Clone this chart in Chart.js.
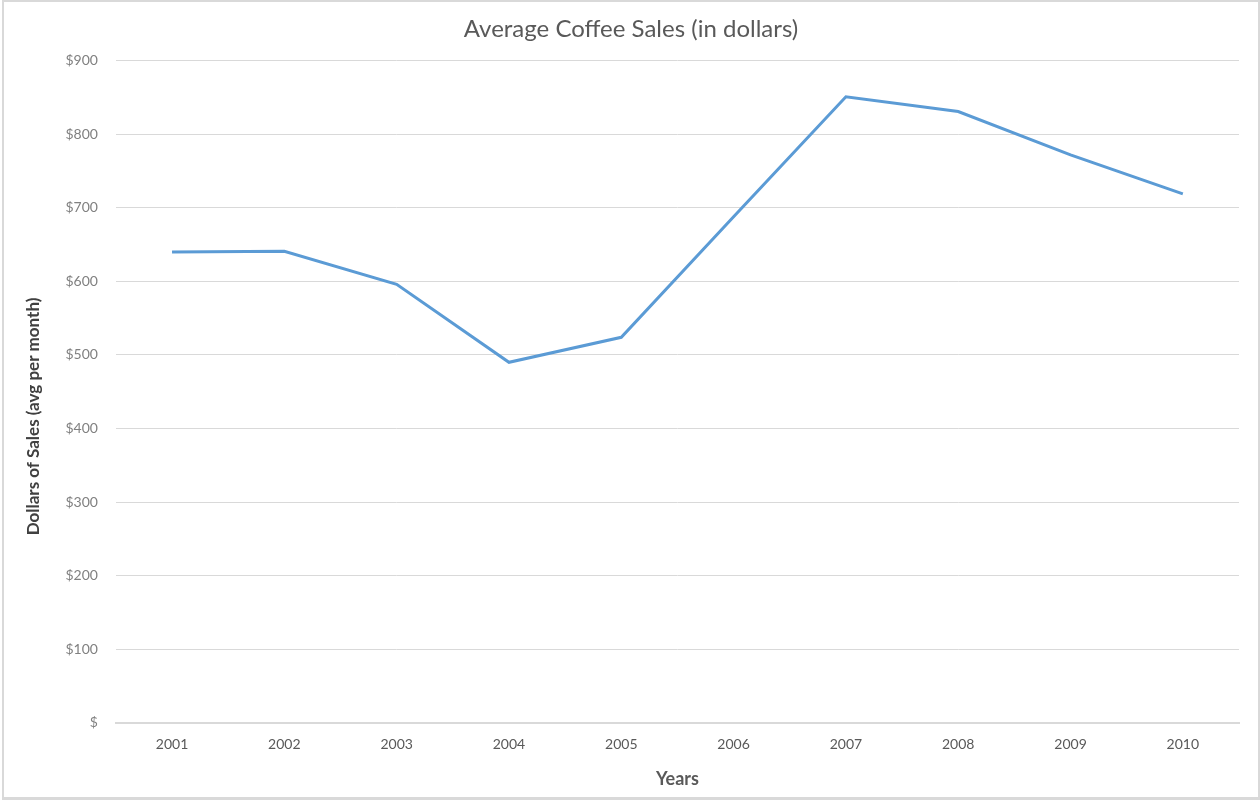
<!DOCTYPE html>
<html>
<head>
<meta charset="utf-8">
<script src="https://cdn.jsdelivr.net/npm/chart.js@4"></script>
<style>
  body { margin: 0; background: #fff; }
  #frame {
    position: absolute; left: 2px; top: 0px;
    width: 1254px; height: 795px;
    border: 2px solid #d9d9d9; border-bottom-width: 3px;
  }
  #wrap { position: absolute; left: 0; top: 0; width: 1260px; height: 805px; }
</style>
</head>
<body>
<div id="frame"></div>
<div id="wrap"><canvas id="salesChart"></canvas></div>
<script>
// Chart data
const years = ['2001', '2002', '2003', '2004', '2005', '2006', '2007', '2008', '2009', '2010'];
const avgSales = [640, 641, 596, 490, 524, 688, 851, 831, 772, 719];
const yTicks = [0, 100, 200, 300, 400, 500, 600, 700, 800, 900];

const textColor = '#595959';
const fontFamily = 'Lato, "Open Sans", sans-serif';

const ctx = document.getElementById('salesChart').getContext('2d');
const salesChart = new Chart(ctx, {
    type: 'line',
    data: {
        labels: years,
        datasets: [{
            label: 'Average Coffee Sales',
            data: avgSales,
            borderColor: '#5b9bd5',
            borderWidth: 3,
            pointRadius: 0,
            fill: false,
            tension: 0
        }]
    },
    options: {
        responsive: true,
        maintainAspectRatio: false,
        animation: false,
        layout: {
            padding: { left: 23, right: 21, top: 8, bottom: 15 }
        },
        plugins: {
            legend: { display: false },
            tooltip: { enabled: false },
            title: {
                display: true,
                text: 'Average Coffee Sales (in dollars)',
                color: textColor,
                font: { family: fontFamily, size: 24, weight: 'normal' },
                padding: { top: 7, bottom: 17 }
            }
        },
        scales: {
            x: {
                offset: true,
                grid: { display: false, drawTicks: false },
                border: { display: true, color: '#d9d9d9', width: 2 },
                ticks: {
                    color: textColor,
                    font: { family: fontFamily, size: 14 },
                    padding: 13
                },
                title: {
                    display: true,
                    text: 'Years',
                    color: textColor,
                    font: { family: fontFamily, size: 18, weight: 'bold' },
                    padding: { top: 3, bottom: 0 }
                }
            },
            y: {
                min: yTicks[0],
                max: yTicks[yTicks.length - 1],
                afterBuildTicks: (axis) => {
                    axis.ticks = yTicks.map(v => ({ value: v }));
                },
                grid: { color: '#d9d9d9', lineWidth: 1, drawTicks: false },
                border: { display: false },
                ticks: {
                    color: '#808080',
                    font: { family: fontFamily, size: 14 },
                    padding: 18,
                    callback: (v) => v === 0 ? '$' : '$' + v
                },
                title: {
                    display: true,
                    // trailing spaces nudge the rotated title down, like the original
                    text: 'Dollars of Sales (avg per month)' + '\u00a0'.repeat(12),
                    color: '#404040',
                    font: { family: fontFamily, size: 17, weight: 'bold' },
                    padding: { top: 0, bottom: 4 }
                }
            }
        }
    }
});
</script>
</body>
</html>
